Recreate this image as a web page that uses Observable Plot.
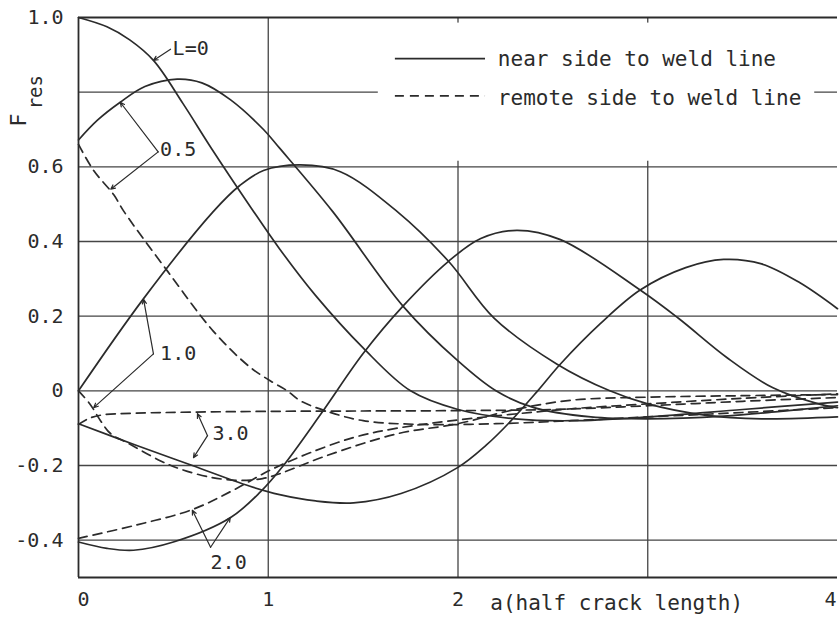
<!DOCTYPE html>
<html>
<head>
<meta charset="utf-8">
<script src="https://cdn.jsdelivr.net/npm/d3@7"></script>
<script src="https://cdn.jsdelivr.net/npm/@observablehq/plot@0.6"></script>
<style>
  html, body { margin: 0; padding: 0; background: #fff; }
  #chart svg { display: block; }
</style>
</head>
<body>
<div id="chart"></div>
<script>
// Residual-stress correction factor F_res against half crack length a,
// for several distances L of the weld line (solid: near side, dashed: remote side).

const nearL0 = [[0,1.0],[0.15,0.975],[0.27,0.94],[0.395,0.885],[0.55,0.77],[0.7,0.65],[0.91,0.49],[1.06,0.38],[1.25,0.255],[1.5,0.115],[1.75,0.0],[2.0,-0.05],[2.3,-0.075],[2.6,-0.08],[3.0,-0.07],[3.5,-0.05],[4.0,-0.03]];
const nearL05 = [[0,0.672],[0.1,0.725],[0.22,0.773],[0.35,0.815],[0.52,0.835],[0.65,0.825],[0.8,0.78],[0.975,0.70],[1.06,0.65],[1.34,0.48],[1.71,0.227],[2.0,0.08],[2.2,0.0],[2.4,-0.045],[2.7,-0.07],[3.0,-0.075],[3.4,-0.068],[3.7,-0.055],[4.0,-0.04]];
const nearL1 = [[0,0],[0.34,0.245],[0.71,0.48],[0.85,0.55],[0.975,0.59],[1.17,0.605],[1.38,0.587],[1.68,0.48],[1.95,0.347],[2.19,0.195],[2.52,0.072],[2.8,0.0],[3.0,-0.035],[3.3,-0.065],[3.6,-0.075],[4.0,-0.07]];
const nearL2 = [[0,-0.405],[0.15,-0.422],[0.29,-0.427],[0.5,-0.405],[0.8,-0.34],[0.96,-0.27],[1.08,-0.2],[1.28,-0.06],[1.5,0.1],[1.71,0.227],[1.95,0.347],[2.12,0.408],[2.31,0.43],[2.54,0.405],[2.96,0.27],[3.16,0.195],[3.42,0.088],[3.66,0.008],[3.9,-0.035],[4.0,-0.045]];
const nearL3 = [[0,-0.088],[0.3,-0.145],[0.6,-0.2],[0.9,-0.255],[1.06,-0.278],[1.25,-0.295],[1.45,-0.30],[1.7,-0.275],[2.0,-0.205],[2.15,-0.145],[2.28,-0.08],[2.42,0.0],[2.54,0.072],[2.75,0.18],[2.96,0.27],[3.2,0.33],[3.4,0.352],[3.6,0.34],[3.8,0.29],[4.0,0.22]];

const remoteL05 = [[0,0.66],[0.08,0.59],[0.186,0.525],[0.24,0.48],[0.47,0.32],[0.71,0.16],[0.9,0.065],[1.01,0.027],[1.1,0.0],[1.17,-0.027],[1.31,-0.055],[1.5,-0.08],[1.8,-0.09],[2.2,-0.088],[2.6,-0.08],[3.0,-0.07],[3.5,-0.058],[4.0,-0.045]];
const remoteL1 = [[0,0],[0.06,-0.035],[0.116,-0.08],[0.17,-0.115],[0.26,-0.14],[0.43,-0.187],[0.54,-0.21],[0.7,-0.232],[0.85,-0.24],[0.97,-0.235],[1.06,-0.222],[1.3,-0.175],[1.68,-0.115],[2.0,-0.088],[2.3,-0.05],[2.6,-0.025],[3.0,-0.017],[3.5,-0.013],[4.0,-0.01]];
const remoteL2 = [[0,-0.395],[0.3,-0.36],[0.6,-0.318],[0.82,-0.265],[1.0,-0.215],[1.2,-0.17],[1.45,-0.125],[1.68,-0.1],[2.0,-0.078],[2.3,-0.062],[2.6,-0.048],[3.0,-0.035],[3.5,-0.02],[4.0,-0.008]];
const remoteL3 = [[0,-0.09],[0.05,-0.075],[0.12,-0.065],[0.3,-0.06],[0.6,-0.057],[1.0,-0.055],[1.5,-0.054],[2.0,-0.053],[2.5,-0.05],[3.0,-0.04],[3.5,-0.028],[4.0,-0.018]];

const yTicks = [1.0, 0.6, 0.4, 0.2, 0, -0.2, -0.4];
const yTickLabels = ["1.0", "0.6", "0.4", "0.2", "0", "-0.2", "-0.4"];
const xTicks = [0, 1, 2, 4];
const xTitle = "a(half crack length)";
const gridY = [0.8, 0.6, 0.4, 0.2, 0, -0.2, -0.4];
const gridX = [1, 2, 3];
const legendLabels = ["near side to weld line", "remote side to weld line"];
const curveLabels = ["L=0", "0.5", "1.0", "3.0", "2.0"];

// label anchor points [x, y] and leader lines [x1, y1, x2, y2], in data units
const curveLabelAt = [[0.496, 0.917], [0.43, 0.645], [0.43, 0.099], [0.706, -0.115], [0.696, -0.461]];
const leaders = [
  [0.485, 0.915, 0.395, 0.885],
  [0.42, 0.64, 0.22, 0.773],
  [0.42, 0.64, 0.17, 0.54],
  [0.395, 0.099, 0.343, 0.245],
  [0.395, 0.099, 0.08, -0.045],
  [0.68, -0.12, 0.627, -0.061],
  [0.68, -0.12, 0.606, -0.179],
  [0.696, -0.419, 0.6, -0.32],
  [0.696, -0.419, 0.8, -0.339]
];

const ink = "#2b2b2b";
const gridInk = "#454545";
const dash = "9,6";
const mono = "'DejaVu Sans Mono', monospace";

const curve = (pts, dashed) => Plot.line(pts, {
  x: d => d[0], y: d => d[1], curve: "catmull-rom",
  stroke: ink, strokeWidth: 1.7, strokeDasharray: dashed ? dash : null
});

const xAxis = (ticks, dx) => Plot.axisX(ticks, {
  tickSize: 0, tickPadding: 14, fontSize: 20, label: null, dx,
  tickFormat: d => String(d)
});

const chart = Plot.plot({
  width: 839,
  height: 623,
  marginLeft: 78,
  marginRight: 2,
  marginTop: 17,
  marginBottom: 46,
  x: {domain: [0, 4], axis: null},
  y: {domain: [-0.5, 1.0], axis: null},
  style: {fontFamily: mono, fontSize: "20px", color: ink, background: "#fff"},
  marks: [
    Plot.ruleY(gridY, {stroke: gridInk, strokeWidth: 1.3}),
    Plot.ruleX(gridX, {y1: -0.5, y2: 1.0, stroke: gridInk, strokeWidth: 1.3}),
    // white panel behind the legend
    Plot.rect([0], {x1: 1.58, x2: 3.88, y1: 0.615, y2: 0.985, fill: "#fff"}),
    // frame
    Plot.ruleX([0], {y1: -0.5, y2: 1.0, stroke: ink, strokeWidth: 1.8}),
    Plot.ruleY([1.0, -0.5], {stroke: ink, strokeWidth: 1.8}),
    // curves
    curve(nearL0, false),
    curve(nearL05, false),
    curve(nearL1, false),
    curve(nearL2, false),
    curve(nearL3, false),
    curve(remoteL05, true),
    curve(remoteL1, true),
    curve(remoteL2, true),
    curve(remoteL3, true),
    // curve labels with leader lines
    Plot.arrow(leaders, {
      x1: d => d[0], y1: d => d[1], x2: d => d[2], y2: d => d[3],
      stroke: ink, strokeWidth: 1.2, headLength: 6, headAngle: 50
    }),
    Plot.text(curveLabels, {
      x: (d, i) => curveLabelAt[i][0], y: (d, i) => curveLabelAt[i][1],
      text: d => d, textAnchor: "start", fontSize: 20, fill: ink
    }),
    // legend
    Plot.ruleY([0.89], {x1: 1.67, x2: 2.145, stroke: ink, strokeWidth: 1.7}),
    Plot.ruleY([0.79], {x1: 1.67, x2: 2.145, stroke: ink, strokeWidth: 1.7, strokeDasharray: dash}),
    Plot.text(legendLabels, {
      x: 2.21, y: (d, i) => [0.887, 0.785][i], text: d => d,
      textAnchor: "start", fontSize: 21, fill: ink
    }),
    // axes: the first x label sits just right of the frame, the last one inside the edge
    Plot.axisY(yTicks, {
      tickSize: 0, tickPadding: 15, fontSize: 20, label: null,
      tickFormat: d => yTickLabels[yTicks.indexOf(d)]
    }),
    xAxis(xTicks.filter(d => d === 0), 5),
    xAxis(xTicks.filter(d => d > 0 && d < 4), 0),
    xAxis(xTicks.filter(d => d === 4), -7),
    Plot.text([xTitle], {x: 2.17, y: -0.5, dy: 26, text: d => d, textAnchor: "start", fontSize: 21, fill: ink}),
    Plot.text(["F"], {x: 0, y: 0.725, dx: -60, text: d => d, rotate: -90, fontSize: 22, fill: ink}),
    Plot.text(["res"], {x: 0, y: 0.8, dx: -43, text: d => d, rotate: -90, fontSize: 19, fill: ink})
  ]
});

document.getElementById("chart").appendChild(chart);
</script>
</body>
</html>
